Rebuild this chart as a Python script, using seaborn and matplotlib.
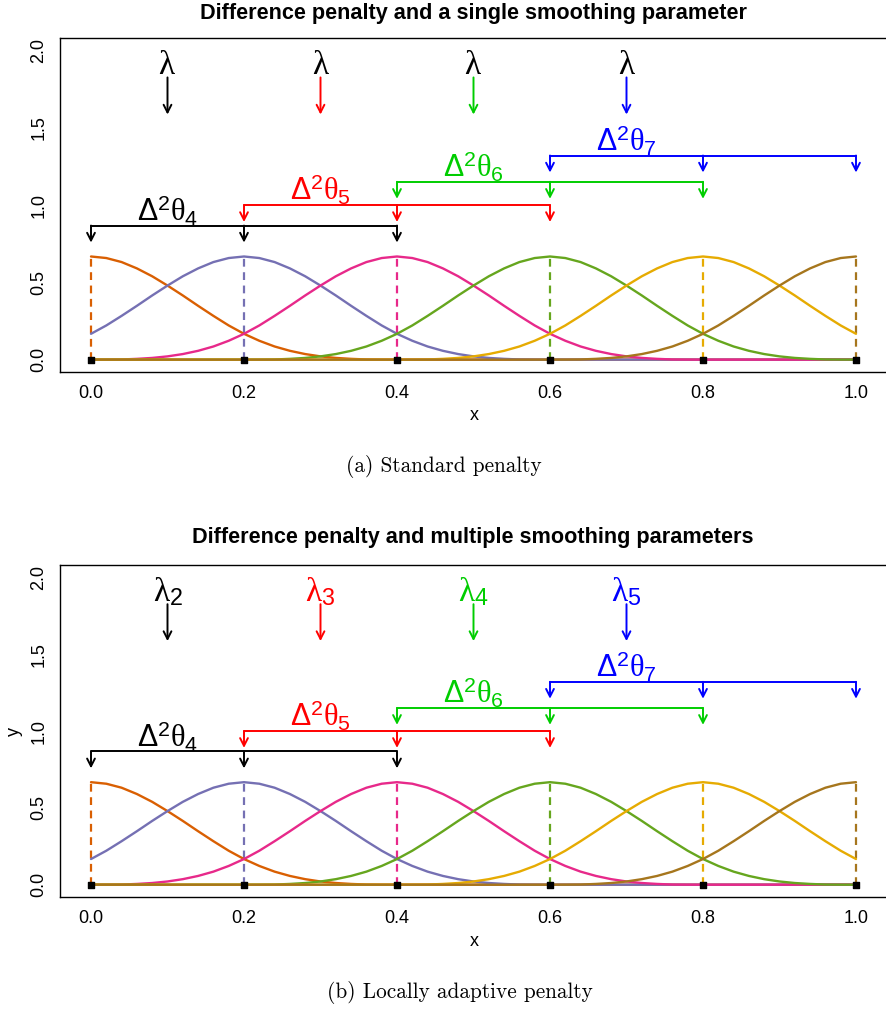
import numpy as np
import pandas as pd
import matplotlib
matplotlib.use("Agg")
import matplotlib.pyplot as plt
import seaborn as sns

# ---------------- datos ----------------
KNOTS = [0.0, 0.2, 0.4, 0.6, 0.8, 1.0]
KNOT_LABELS = ["0.0", "0.2", "0.4", "0.6", "0.8", "1.0"]
Y_TICKS = [0.0, 0.5, 1.0, 1.5, 2.0]
Y_LABELS = ["0.0", "0.5", "1.0", "1.5", "2.0"]
BASIS_COLORS = ["#D95F02", "#7570B3", "#E7298A", "#66A61E", "#E6AB02", "#A6761D"]

# one cubic B-spline bump read every 0.02 away from its knot
STEP = 0.02
PROFILE = [0.667, 0.657, 0.631, 0.590, 0.539, 0.479, 0.415, 0.348, 0.283, 0.221,
           0.167, 0.122, 0.085, 0.057, 0.036, 0.021, 0.011, 0.005, 0.001, 0.0002, 0.0]
PEAK = 0.667

PEN_COLORS = ["black", "red", "#00CD00", "blue"]
LAMBDA_X = [0.1, 0.3, 0.5, 0.7]
LAMBDA_TOP = [r"$\lambda$", r"$\lambda$", r"$\lambda$", r"$\lambda$"]
LAMBDA_BOTTOM = [r"$\lambda_2$", r"$\lambda_3$", r"$\lambda_4$", r"$\lambda_5$"]
DELTA_LABELS = [r"$\Delta^2\theta_4$", r"$\Delta^2\theta_5$",
                r"$\Delta^2\theta_6$", r"$\Delta^2\theta_7$"]
BRACKET_START = [0.0, 0.2, 0.4, 0.6]
BRACKET_Y = [0.867, 1.0, 1.15, 1.32]

TITLES = ["Difference penalty and a single smoothing parameter",
          "Difference penalty and multiple smoothing parameters"]
CAPTIONS = ["(a) Standard penalty", "(b) Locally adaptive penalty"]

W, H = 886, 1011

sns.set_style("white")
plt.rcParams["font.family"] = ["Liberation Sans", "DejaVu Sans"]
plt.rcParams["text.color"] = "black"
plt.rcParams["axes.labelcolor"] = "black"
plt.rcParams["xtick.color"] = "black"
plt.rcParams["ytick.color"] = "black"
plt.rcParams["mathtext.fontset"] = "custom"
plt.rcParams["mathtext.rm"] = "Liberation Sans"
plt.rcParams["mathtext.it"] = "Liberation Serif"
plt.rcParams["mathtext.bf"] = "Liberation Sans:bold"


def basis_frame():
    grid = np.round(np.arange(int(round(1 / STEP)) + 1) * STEP, 4)
    rows = []
    for k, c in enumerate(KNOTS):
        ck = int(round(c / STEP))
        for i, x in enumerate(grid):
            d = abs(i - ck)
            y = PROFILE[d] if d < len(PROFILE) else 0.0
            rows.append({"x": x, "y": y, "basis": k})
    return pd.DataFrame(rows)


def arrow(ax, x, y0, y1, color):
    ax.annotate("", xy=(x, y1), xytext=(x, y0),
                arrowprops=dict(arrowstyle="->,head_length=0.55,head_width=0.28",
                                color=color, lw=1.4, shrinkA=0, shrinkB=0))


def dibujar_panel(ax, df, lambda_labels, lambda_colored):
    sns.lineplot(data=df, x="x", y="y", hue="basis", palette=BASIS_COLORS,
                 legend=False, lw=1.7, ax=ax, sort=False)
    for k, c in enumerate(KNOTS):
        ax.plot([c, c], [0, PEAK], color=BASIS_COLORS[k], lw=1.6,
                linestyle=(0, (3.5, 2.5)), zorder=1.5)
    ax.scatter(KNOTS, [0] * len(KNOTS), marker="s", s=14, color="black", zorder=5)

    for i, x in enumerate(LAMBDA_X):
        tc = PEN_COLORS[i] if lambda_colored else "black"
        ax.text(x, 1.905, lambda_labels[i], color=tc, ha="center", va="center", size=24)
        arrow(ax, x, 1.825, 1.585, PEN_COLORS[i])

    for i, x0 in enumerate(BRACKET_START):
        h = BRACKET_Y[i]
        col = PEN_COLORS[i]
        ax.plot([x0, x0 + 0.4], [h, h], color=col, lw=1.4)
        for xi in (x0, x0 + 0.2, x0 + 0.4):
            arrow(ax, xi, h, h - 0.11, col)
        ax.text(x0 + 0.1, h + 0.095, DELTA_LABELS[i], color=col,
                ha="center", va="center", size=22)

    ax.set_xlim(-0.04, 1.04)
    ax.set_ylim(-0.08, 2.08)
    ax.set_xticks(KNOTS)
    ax.set_xticklabels(KNOT_LABELS)
    ax.set_yticks(Y_TICKS)
    ax.set_yticklabels(Y_LABELS, rotation=90, va="center")
    ax.set_xlabel("")
    ax.set_ylabel("")
    ax.tick_params(direction="out", length=4.5, width=1, labelsize=13, pad=5,
                   colors="black")
    for s in ax.spines.values():
        s.set_color("black")
        s.set_linewidth(1)


df = basis_frame()
fig = plt.figure(figsize=(W / 100, H / 100), dpi=100)

paneles = [
    (372, 38, LAMBDA_TOP, False, 14, 416, 466, 444),
    (897, 565, LAMBDA_BOTTOM, True, 538, 941, 993, 460),
]
for j, (bot, top, labs, colored, ty, xy, cy, cx) in enumerate(paneles):
    ax = fig.add_axes([60.4 / W, 1 - bot / H, 826.2 / W, (bot - top) / H])
    dibujar_panel(ax, df, labs, colored)
    fig.text(473 / W, 1 - ty / H, TITLES[j], ha="center", va="center",
             fontsize=15.6, fontweight="bold")
    fig.text(474 / W, 1 - xy / H, "x", ha="center", va="center", fontsize=13)
    fig.text(cx / W, 1 - cy / H, CAPTIONS[j], ha="center", va="center",
             fontsize=15.3, family="cmr10")

fig.text(14 / W, 1 - 731 / H, "y", ha="center", va="center", fontsize=13, rotation=90)

fig.savefig("out.png", dpi=100)
